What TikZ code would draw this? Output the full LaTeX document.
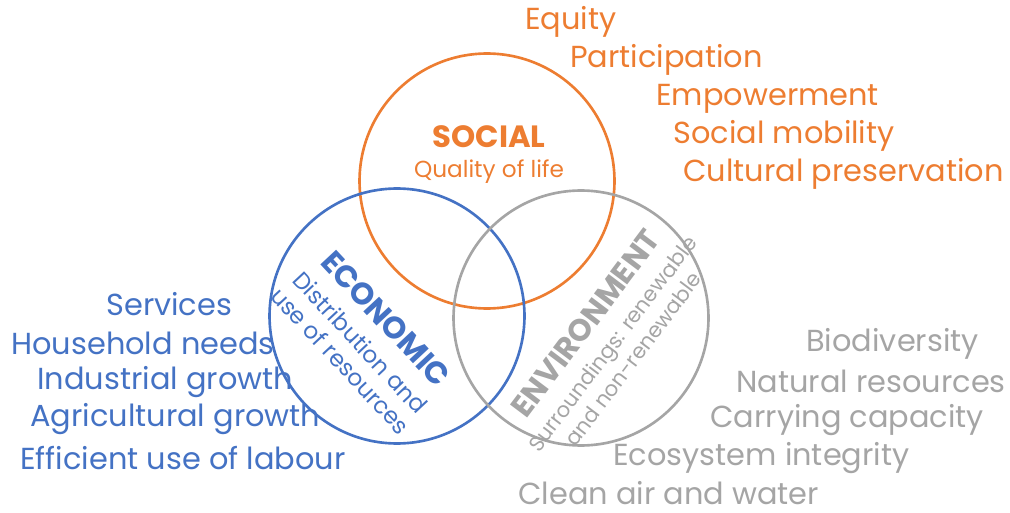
\documentclass[tikz,border=0pt]{standalone}
\usepackage{fontspec}
\setmainfont{Poppins}
\usetikzlibrary{positioning}

\definecolor{socialc}{HTML}{ED7D31}
\definecolor{econc}{HTML}{4472C4}
\definecolor{envc}{HTML}{A5A5A5}

\tikzset{
  ring/.style={circle, line width=1.5pt, minimum size=5.1cm, inner sep=0pt},
  item/.style={anchor=west, inner sep=0pt, font=\fontsize{17.3}{20}\selectfont},
  head/.style={font=\fontsize{17.5}{20}\selectfont\bfseries},
  sub/.style={font=\fontsize{13.2}{15.5}\selectfont}
}

\begin{document}
\begin{tikzpicture}[x=0.02cm, y=-0.02cm]
        \useasboundingbox (0,0) rectangle (1010,513);

        \node[ring, draw=socialc] (social) at (487,181) {};
        \node[ring, draw=econc] (econ) at (397,316) {};
        \node[ring, draw=envc] (env) at (581,318) {};

        \node[head, color=socialc, inner sep=0pt] (socialhead) at (489,137) {SOCIAL};
        \node[sub, color=socialc, inner sep=0pt, below=6pt of socialhead] (socialsub) {Quality of life};

        \node[sub, color=econc, rotate=-47, align=center] (econtext) at (364,339)
            {{\fontsize{17.5}{20}\selectfont\bfseries ECONOMIC}\\[3pt] Distribution and\\ use of resources};
        \node[sub, color=envc, rotate=53, align=center, font=\fontsize{12}{14.5}\selectfont] (envtext) at (608,340)
            {{\fontsize{17.5}{20}\selectfont\bfseries ENVIRONMENT}\\[3pt] Surroundings: renewable\\ and non-renewable};

        % social aspects
        \node[item, color=socialc] (s1) at (525,22) {Equity};
        \node[item, color=socialc] (s2) at (570,60) {Participation};
        \node[item, color=socialc] (s3) at (656,99) {Empowerment};
        \node[item, color=socialc] (s4) at (673,136) {Social mobility};
        \node[item, color=socialc] (s5) at (683,174) {Cultural preservation};

        % economic aspects
        \node[item, color=econc] (e1) at (106,304) {Services};
        \node[item, color=econc] (e2) at (11,343) {Household needs};
        \node[item, color=econc] (e3) at (37,382) {Industrial growth};
        \node[item, color=econc] (e4) at (30,419) {Agricultural growth};
        \node[item, color=econc] (e5) at (20,458) {Efficient use of labour};

        % environmental aspects
        \node[item, color=envc] (n1) at (806,344) {Biodiversity};
        \node[item, color=envc] (n2) at (736,381) {Natural resources};
        \node[item, color=envc] (n3) at (710,420) {Carrying capacity};
        \node[item, color=envc] (n4) at (613,458) {Ecosystem integrity};
        \node[item, color=envc] (n5) at (518,493) {Clean air and water};
    \end{tikzpicture}
\end{document}
